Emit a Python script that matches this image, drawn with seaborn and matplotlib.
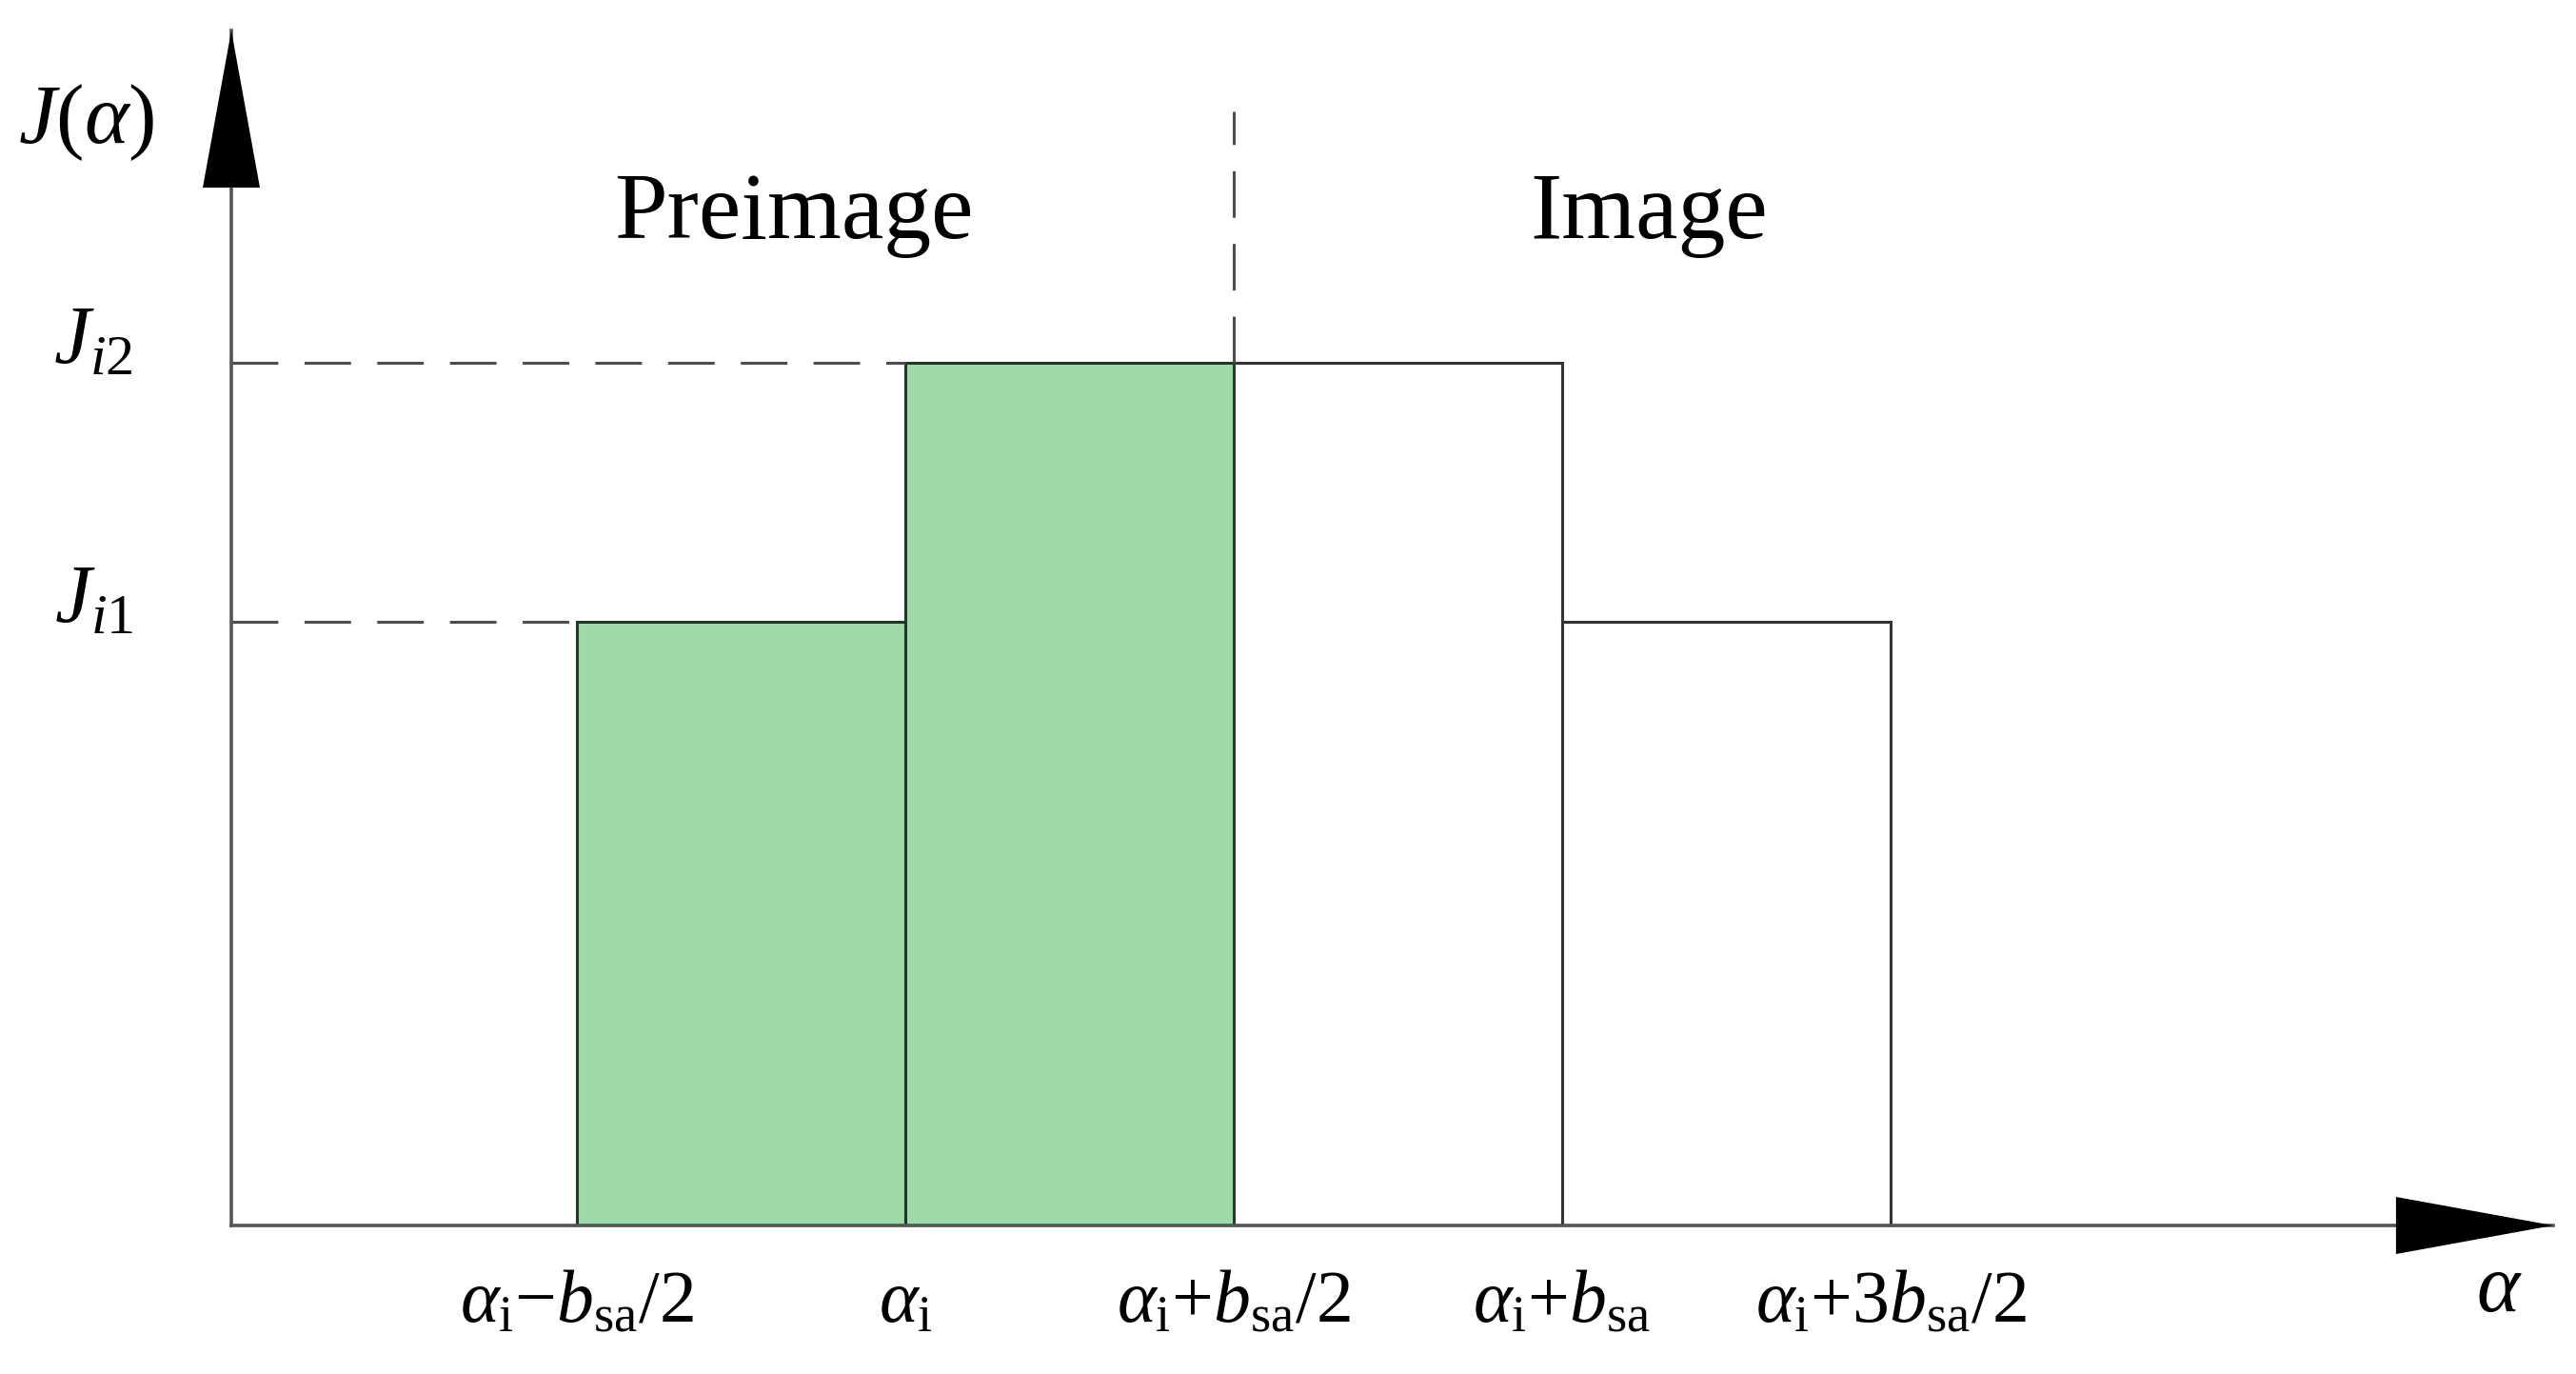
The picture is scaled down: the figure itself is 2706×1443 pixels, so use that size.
import numpy as np
import pandas as pd
import matplotlib
matplotlib.use('Agg')
from matplotlib import pyplot as plt
import seaborn as sns

# positions in units of b_sa/2, measured from alpha_i
bar_centres = [-0.5, 0.5, 1.5, 2.5]
bar_heights = [0.7, 1.0, 1.0, 0.7]          # J_i1, J_i2, J_i2, J_i1
bar_part = ['Preimage', 'Preimage', 'Image', 'Image']
J_levels = [0.7, 1.0]
J_labels = [r'$J_{\mathit{i1}}$', r'$J_{\mathit{i2}}$']
x_ticks = [-1, 0, 1, 2, 3]
x_ticklabels = [
    r'$\alpha_{\mathrm{i}}{-}b_{\mathrm{sa}}/2$',
    r'$\alpha_{\mathrm{i}}$',
    r'$\alpha_{\mathrm{i}}{+}b_{\mathrm{sa}}/2$',
    r'$\alpha_{\mathrm{i}}{+}b_{\mathrm{sa}}$',
    r'$\alpha_{\mathrm{i}}{+}3b_{\mathrm{sa}}/2$',
]

sns.set_style('white', {'text.color': 'black', 'axes.labelcolor': 'black',
                        'xtick.color': 'black', 'ytick.color': 'black'})
plt.rcParams['font.family'] = ['Liberation Serif', 'DejaVu Serif']
plt.rcParams['mathtext.fontset'] = 'custom'
plt.rcParams['mathtext.rm'] = 'Liberation Serif'
plt.rcParams['mathtext.it'] = 'Liberation Serif:italic'

df = pd.DataFrame({'x': bar_centres, 'J': bar_heights, 'part': bar_part})

fig = plt.figure(figsize=(27.06, 14.43), dpi=100)
ax = fig.add_axes([0.0898, 0.1081, 0.9013, 0.8697])

sns.barplot(data=df, x='x', y='J', hue='part',
            palette={'Preimage': '#9dd9a9', 'Image': 'white'},
            native_scale=True, width=1, dodge=False, saturation=1,
            errorbar=None, legend=False, linewidth=2.2, ax=ax)
for p in ax.patches:
    if p.get_facecolor()[1] < 0.95:
        p.set_edgecolor('#1d3a22')
    else:
        p.set_edgecolor('#333333')

xmin, xmax = -2.0522, 5.0174
ymax = 1.3852
ax.set(xlim=(xmin, xmax), ylim=(0, ymax))

# dashed guides from the J axis to the first bar at each level
dash = (0, (16, 9))
for lev in J_levels:
    left = min(c - 0.5 for c, h in zip(bar_centres, bar_heights) if h == lev)
    ax.hlines(lev, xmin, left, colors='#4d4d4d', lw=2.2, linestyles=dash, zorder=1)
split = max(c for c, g in zip(bar_centres, bar_part) if g == 'Preimage') + 0.5
ax.vlines(split, max(J_levels), 1.291, colors='#4d4d4d', lw=2.2, linestyles=dash)

ax.text(-0.339, 1.1446, 'Preimage', fontsize=72, ha='center', va='baseline')
ax.text(2.264, 1.1446, 'Image', fontsize=72, ha='center', va='baseline')

sns.despine(ax=ax)
for s in ['left', 'bottom']:
    ax.spines[s].set_color('#555555')
    ax.spines[s].set_linewidth(2.6)

ax.set_xticks(x_ticks, labels=x_ticklabels, fontsize=56)
ax.set_yticks(J_levels, labels=J_labels, fontsize=62)
ax.tick_params(axis='x', length=0, pad=73, colors='black')
ax.tick_params(axis='y', length=0, pad=74, colors='black')
for t in ax.get_xticklabels() + ax.get_yticklabels():
    t.set_va('baseline')

ax.set_ylabel(r'$J(\alpha)$', rotation=0, fontsize=64, ha='center', va='baseline', color='black')
ax.yaxis.set_label_coords(-0.0623, 0.906)
ax.set_xlabel(r'$\alpha$', fontsize=62, ha='center', va='baseline', color='black')
ax.xaxis.set_label_coords(0.9766, -0.0717)

head = dict(arrowstyle='-|>,head_length=5.94,head_width=1.08', mutation_scale=20,
            color='black', lw=0, shrinkA=0, shrinkB=0, clip_on=False)
ax.annotate('', xy=(1, 0), xytext=(0.9, 0), xycoords='axes fraction',
            arrowprops=head, annotation_clip=False)
ax.annotate('', xy=(0, 1), xytext=(0, 0.8), xycoords='axes fraction',
            arrowprops=head, annotation_clip=False)

fig.savefig('out.png', dpi=100)
